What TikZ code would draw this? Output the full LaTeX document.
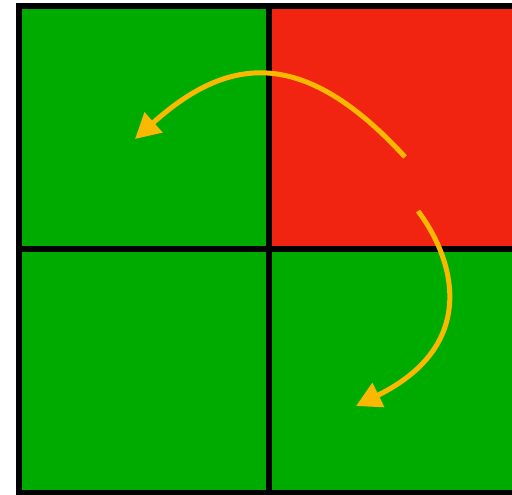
\documentclass[tikz,border=0pt]{standalone}
\usetikzlibrary{arrows.meta}
\definecolor{cellgreen}{RGB}{0,171,0}
\definecolor{cellred}{RGB}{240,36,16}
\definecolor{arrowyellow}{RGB}{250,185,0}
\tikzset{
  gridline/.style={line width=6pt, draw=black},
  cell/.style={inner sep=0pt, outer sep=0pt},
  curvedarrow/.style={draw=arrowyellow, line width=5pt, -{Triangle[length=25pt,width=26pt]}}
}
\begin{document}
\begin{tikzpicture}[x=1pt,y=-1pt]
\useasboundingbox (0,0) rectangle (512,495);
\fill[white] (0,0) rectangle (512,495);
\clip (0,0) rectangle (512,495);
% cells
\fill[cellgreen] (18.5,6) rectangle (269,249);
\fill[cellred] (269,6) rectangle (519.5,249);
\fill[cellgreen] (18.5,249) rectangle (269,493);
\fill[cellgreen] (269,249) rectangle (519.5,493);
% grid lines
\coordinate (tl) at (18.5,6);
\coordinate (tm) at (269,6);
\coordinate (tr) at (519.5,6);
\coordinate (ml) at (18.5,249);
\coordinate (mr) at (519.5,249);
\coordinate (bl) at (18.5,493);
\coordinate (bm) at (269,493);
\coordinate (br) at (519.5,493);
\draw[gridline] (tl) -- (tr) -- (br) -- (bl) -- cycle;
\draw[gridline] (tm) -- (bm);
\draw[gridline] (ml) -- (mr);
% arrows
\coordinate (a1s) at (405,157);
\coordinate (a1e) at (135,139);
\coordinate (a2s) at (418,211);
\coordinate (a2e) at (356,406);
\draw[curvedarrow] (a1s) .. controls (301,43.5) and (225.7,57.8) .. (a1e);
\draw[curvedarrow] (a2s) .. controls (455.8,261.4) and (478,346) .. (a2e);
\end{tikzpicture}
\end{document}
